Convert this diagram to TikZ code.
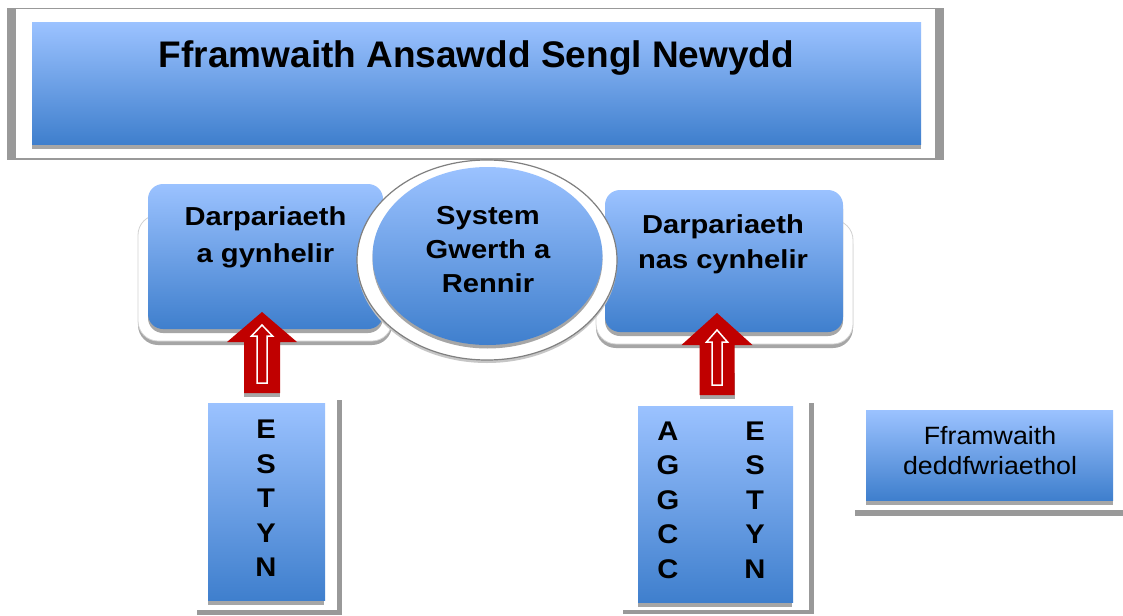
\documentclass[tikz,border=0pt]{standalone}
\usepackage{fontspec}
\setmainfont{Liberation Sans}
\newfontfamily\widebold[FakeStretch=1.12]{Liberation Sans Bold}
\newfontfamily\widereg[FakeStretch=1.07]{Liberation Sans}
\newfontfamily\letterbold[FakeStretch=1.08]{Liberation Sans Bold}
\usetikzlibrary{calc,shapes.geometric}
\definecolor{bluetop}{RGB}{155,194,255}
\definecolor{bluebot}{RGB}{63,127,205}
\definecolor{shadowgray}{RGB}{166,166,166}
\definecolor{framegray}{RGB}{153,153,153}
\definecolor{arrowred}{RGB}{192,0,0}
\begin{document}
\begin{tikzpicture}[x=1pt,y=-1pt,
  bluefill/.style={top color=bluetop, bottom color=bluebot, draw=none, inner sep=0pt},
  plate/.style={fill=white, draw=gray!35, line width=0.8pt, rounded corners=20pt},
  boxtext/.style={font=\widebold\fontsize{26}{37}\selectfont, align=center, inner sep=0pt},
  lettertext/.style={font=\letterbold\fontsize{27}{34.5}\selectfont, align=center, inner sep=0pt},
  outerarrow/.style={fill=arrowred, draw=none},
  innerarrow/.style={fill=arrowred, draw=white, line width=1.5pt, line join=miter}
]
\useasboundingbox (0,0) rectangle (1123,615);
\fill[white] (0,0) rectangle (1123,615);

% ---- title frame ----
\fill[framegray] (7,8) rectangle (944,160);
\fill[white] (16,9.5) rectangle (935,157.5);
\fill[shadowgray] (32,140) rectangle (921,149);
\node[bluefill, minimum width=889pt, minimum height=121pt] (title) at (476.5,83.5) {};
\node[font=\bfseries\fontsize{37}{44}\selectfont, inner sep=0pt, anchor=base] (titletext) at (476.5,68) {Fframwaith Ansawdd Sengl Newydd};

% ---- left rounded box ----
\fill[shadowgray, rounded corners=20pt] (138,219) rectangle (392,345);
\path[plate] (138,215) rectangle (392,341);
\fill[shadowgray, rounded corners=15pt] (148,188) rectangle (383,333);
\node[bluefill, rounded corners=15pt, minimum width=235pt, minimum height=145pt] (leftbox) at (265.5,256.5) {};
\node[boxtext] (lefttext) at (265.5,237) {Darpariaeth\\a gynhelir};

% ---- right rounded box ----
\fill[shadowgray, rounded corners=20pt] (596,224) rectangle (853,348);
\path[plate] (596,220) rectangle (853,344);
\fill[shadowgray, rounded corners=15pt] (605,194) rectangle (843,336);
\node[bluefill, rounded corners=15pt, minimum width=238pt, minimum height=142pt] (rightbox) at (724,261) {};
\node[boxtext, font=\widebold\fontsize{26}{35}\selectfont] (righttext) at (723,244) {Darpariaeth\\nas cynhelir};

% ---- central ellipse ----
\fill[gray!45] (487,263) ellipse [x radius=130, y radius=100];
\filldraw[fill=white, draw=gray, line width=1.2pt] (487,260) ellipse [x radius=130, y radius=100];
\fill[shadowgray] (487.5,259.5) ellipse [x radius=115, y radius=89];
\node[bluefill, ellipse, minimum width=230pt, minimum height=178pt] (valuesys) at (487.5,256) {};
\node[boxtext, font=\widebold\fontsize{26}{34}\selectfont] (valuetext) at (488,249.5) {System\\Gwerth a\\Rennir};

% ---- ESTYN box ----
\fill[framegray] (337,400) rectangle (342,615);
\fill[framegray] (197,610) rectangle (342,615);
\fill[shadowgray] (208,595) rectangle (324,605);
\node[bluefill, minimum width=117pt, minimum height=197pt] (estynbox) at (266.5,501.5) {};
\node[lettertext] (estyn1) at (266,498.5) {E\\S\\T\\Y\\N};

% ---- AGGCC / ESTYN box ----
\fill[framegray] (809,403) rectangle (814,614);
\fill[framegray] (623,610) rectangle (814,614);
\fill[shadowgray] (638,597) rectangle (792,607);
\node[bluefill, minimum width=155pt, minimum height=196pt] (aggccbox) at (715.5,504) {};
\node[lettertext] (aggcc) at (668,500) {A\\G\\G\\C\\C};
\node[lettertext] (estyn2) at (755,500) {E\\S\\T\\Y\\N};

% ---- legal framework box ----
\fill[framegray] (855,510) rectangle (1123,516);
\fill[shadowgray] (866,495) rectangle (1113,505);
\node[bluefill, minimum width=247pt, minimum height=90pt] (legalbox) at (989.5,455) {};
\node[font=\widereg\fontsize{25}{30}\selectfont, align=center, inner sep=0pt] (legaltext) at (990,451) {Fframwaith\\deddfwriaethol};

% ---- arrow: ESTYN -> Darpariaeth a gynhelir ----
\begin{scope}[shift={(262,312)}]
  \fill[shadowgray] (-18,60) rectangle (18,85);
  \path[outerarrow] (0,0) -- (35,30) -- (18,30) -- (18,81) -- (-18,81) -- (-18,30) -- (-35,30) -- cycle;
  \path[innerarrow] (0,13) -- (10.5,24) -- (5,24) -- (5,71) -- (-5,71) -- (-5,24) -- (-10.5,24) -- cycle;
\end{scope}

% ---- arrow: AGGCC/ESTYN -> Darpariaeth nas cynhelir ----
\begin{scope}[shift={(717,313)}]
  \fill[shadowgray] (-17.5,60) rectangle (17.5,86);
  \path[outerarrow] (0,0) -- (35.5,32) -- (17.5,32) -- (17.5,82) -- (-17.5,82) -- (-17.5,32) -- (-35.5,32) -- cycle;
  \path[innerarrow] (0,17) -- (10.5,29) -- (5,29) -- (5,72) -- (-5,72) -- (-5,29) -- (-10.5,29) -- cycle;
\end{scope}
\end{tikzpicture}
\end{document}
